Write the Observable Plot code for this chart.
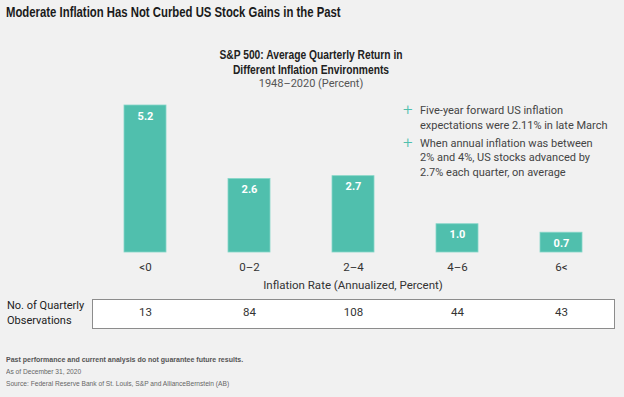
<!DOCTYPE html>
<html><head><meta charset="utf-8">
<script src="https://cdn.jsdelivr.net/npm/d3@7"></script>
<script src="https://cdn.jsdelivr.net/npm/@observablehq/plot@0.6"></script>
<style>
html,body{margin:0;padding:0;background:#f1f1f1;}
#wrap{position:relative;width:624px;height:397px;overflow:hidden;background:#f1f1f1;font-family:Roboto,sans-serif;}
.abs{position:absolute;white-space:nowrap;}
#title{left:6px;top:3px;font-family:"Liberation Sans",Arial,sans-serif;font-weight:bold;font-size:14px;line-height:18px;color:#1a1a1a;transform:scaleX(0.81);transform-origin:0 0;}
#ctitle{left:0;width:622px;top:48px;text-align:center;font-family:"Liberation Sans",Arial,sans-serif;font-weight:bold;font-size:12.5px;line-height:15px;color:#222;transform:scaleX(0.82);transform-origin:311px 0;}
#csub{left:0;width:622px;top:76px;text-align:center;font-family:Roboto,sans-serif;font-size:11px;line-height:15px;color:#555;}
#notes{left:404px;top:104px;font-size:11px;line-height:14.5px;color:#444;}
.item{position:relative;padding-left:16px;margin-bottom:3.5px;}
.item .plus{position:absolute;left:-1px;top:-2px;color:#4fbfad;font-size:17px;font-weight:300;}
#tbllabel{left:7px;top:299px;font-size:11px;line-height:14.5px;color:#222;}
#box{left:92px;top:299px;width:521px;height:28px;border:1px solid #8c8c8c;background:#fff;}
#plot{position:absolute;left:0;top:0;}
.foot{left:6px;font-family:"Liberation Sans",Arial,sans-serif;font-size:7.8px;line-height:10px;color:#666;transform-origin:0 0;}
#f1{top:355px;font-weight:bold;color:#555;transform:scaleX(0.9);}
#f2{top:367px;transform:scaleX(0.85);}
#f3{top:379px;transform:scaleX(0.85);}
</style>
</head><body>
<div id="wrap">
  <div id="box" class="abs"></div>
  <div id="plot"></div>
  <div id="title" class="abs">Moderate Inflation Has Not Curbed US Stock Gains in the Past</div>
  <div id="ctitle" class="abs">S&amp;P 500: Average Quarterly Return in<br>Different Inflation Environments</div>
  <div id="csub" class="abs">1948–2020 (Percent)</div>
  <div id="notes" class="abs">
    <div class="item"><span class="plus">+</span>Five-year forward US inflation<br>expectations were 2.11% in late March</div>
    <div class="item"><span class="plus">+</span>When annual inflation was between<br>2% and 4%, US stocks advanced by<br>2.7% each quarter, on average</div>
  </div>
  <div id="tbllabel" class="abs">No. of Quarterly<br>Observations</div>
  <div id="f1" class="abs foot">Past performance and current analysis do not guarantee future results.</div>
  <div id="f2" class="abs foot">As of December 31, 2020</div>
  <div id="f3" class="abs foot">Source: Federal Reserve Bank of St. Louis, S&amp;P and AllianceBernstein (AB)</div>
</div>
<script>
const categories = ["<0", "0–2", "2–4", "4–6", "6<"];
const returns = [5.2, 2.6, 2.7, 1.0, 0.7];
const observations = [13, 84, 108, 44, 43];
const axisTitle = "Inflation Rate (Annualized, Percent)";

const data = categories.map((c, i) => ({category: c, ret: returns[i], obs: observations[i]}));

const chart = Plot.plot({
  width: 624, height: 397,
  marginLeft: 92, marginRight: 11, marginTop: 105, marginBottom: 145,
  style: {background: "transparent", fontFamily: "Roboto, sans-serif", fontSize: "11.5px", color: "#333", overflow: "visible"},
  x: {domain: categories, paddingInner: 0.6, paddingOuter: 0.3},
  y: {domain: [0, 5.2], axis: null},
  marks: [
    Plot.barY(data, {x: "category", y: "ret", fill: "#50bfad", stroke: "#86d6c8", strokeWidth: 0.8}),
    Plot.text(data, {x: "category", y: "ret", text: d => d.ret.toFixed(1), dy: 10.5, fill: "white", fontWeight: "bold", fontSize: 11}),
    Plot.text(data, {x: "category", text: d => String(d.obs), frameAnchor: "bottom", dy: 63, fill: "#333", fontSize: 11.5}),
    Plot.axisX({tickSize: 0, tickPadding: 10, fontSize: 11.5, color: "#333", label: axisTitle, labelAnchor: "center", labelOffset: 36})
  ]
});
document.getElementById("plot").appendChild(chart);
</script>
</body></html>
